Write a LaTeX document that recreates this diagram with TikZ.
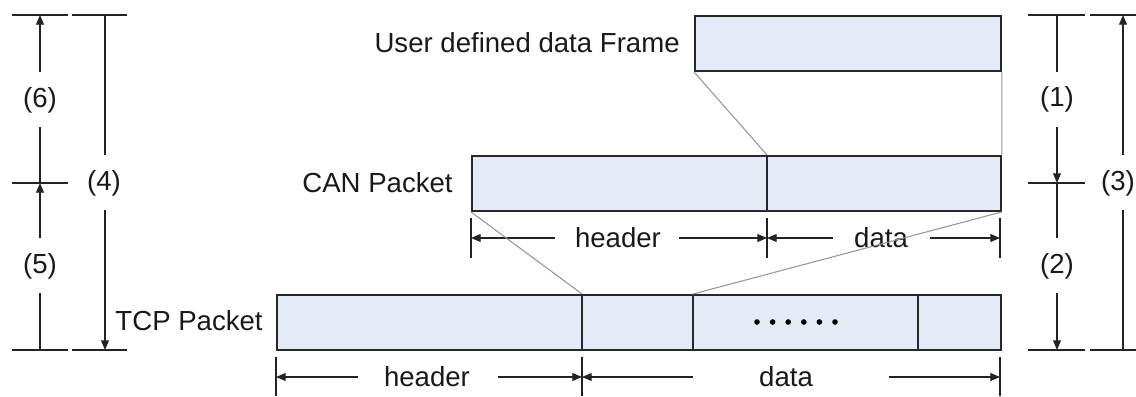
\documentclass[tikz,border=0pt]{standalone}
\usepackage{fontspec}
\setmainfont{Liberation Sans}
\usetikzlibrary{arrows.meta}
\definecolor{boxfill}{RGB}{228,235,247}
\definecolor{boxline}{RGB}{40,40,40}
\definecolor{guide}{RGB}{150,150,150}
\definecolor{dimline}{RGB}{35,35,35}
\tikzset{
  pbox/.style={draw=boxline, fill=boxfill, line width=1.1pt, anchor=north west, inner sep=0pt, minimum height=1.1cm},
  divider/.style={draw=boxline, line width=0.8pt},
  guideline/.style={draw=guide, line width=0.6pt},
  dim/.style={draw=dimline, line width=0.65pt},
  dimarrow/.style={dim, -{Triangle[length=5.5pt,width=4.5pt]}},
  lbl/.style={font=\fontsize{15.7}{18}\selectfont, text=black!90, inner sep=0pt},
  dot/.style={fill=black, circle, inner sep=0pt, minimum size=3.2pt}
}
\begin{document}
\begin{tikzpicture}[x=0.02cm,y=-0.02cm]
\useasboundingbox (0,0) rectangle (1136,396);

% boxes
\node[pbox, minimum width=6.12cm] (uf) at (694,15) {};
\node[pbox, minimum width=10.58cm] (can) at (471,155) {};
\node[pbox, minimum width=14.48cm] (tcp) at (276,294) {};

% dividers
\coordinate (candt) at (767,155); \coordinate (candb) at (767,210);
\draw[divider] (candt) -- (candb);
\coordinate (t1t) at (582,294); \coordinate (t1b) at (582,349);
\coordinate (t2t) at (693,294); \coordinate (t2b) at (693,349);
\coordinate (t3t) at (918,294); \coordinate (t3b) at (918,349);
\draw[divider] (t1t) -- (t1b);
\draw[divider] (t2t) -- (t2b);
\draw[divider] (t3t) -- (t3b);

% dots
\foreach \i in {0,...,5} {
  \node[dot] (d\i) at ({757+\i*15.6},322) {};
}

% box labels
\node[lbl, anchor=east] (ufl) at (680,43) {User defined data Frame};
\node[lbl, anchor=east] (canl) at (453,183) {CAN Packet};
\node[lbl, anchor=east] (tcpl) at (263,321) {TCP Packet};

% CAN dimension
\coordinate (ca1) at (471,218); \coordinate (ca1b) at (471,258);
\coordinate (ca2) at (767,218); \coordinate (ca2b) at (767,258);
\coordinate (ca3) at (1000,218); \coordinate (ca3b) at (1000,258);
\draw[dim] (ca1) -- (ca1b);
\draw[dim] (ca2) -- (ca2b);
\draw[dim] (ca3) -- (ca3b);
\node[lbl] (canh) at (618,238) {header};
\node[lbl] (cand) at (881,238) {data};
\coordinate (cah1) at (555,238); \coordinate (cah1e) at (471,238);
\coordinate (cah2) at (679,238); \coordinate (cah2e) at (767,238);
\coordinate (cad1) at (833,238); \coordinate (cad1e) at (767,238);
\coordinate (cad2) at (930,238); \coordinate (cad2e) at (1000,238);
\draw[dimarrow] (cah1) -- (cah1e);
\draw[dimarrow] (cah2) -- (cah2e);
\draw[dimarrow] (cad1) -- (cad1e);
\draw[dimarrow] (cad2) -- (cad2e);

% TCP dimension
\coordinate (ta1) at (276,357); \coordinate (ta1b) at (276,396);
\coordinate (ta2) at (582,357); \coordinate (ta2b) at (582,396);
\coordinate (ta3) at (1000,357); \coordinate (ta3b) at (1000,396);
\draw[dim] (ta1) -- (ta1b);
\draw[dim] (ta2) -- (ta2b);
\draw[dim] (ta3) -- (ta3b);
\node[lbl] (tcph) at (427,377) {header};
\node[lbl] (tcpd) at (786,377) {data};
\coordinate (th1) at (358,377); \coordinate (th1e) at (276,377);
\coordinate (th2) at (498,377); \coordinate (th2e) at (582,377);
\coordinate (td1) at (693,377); \coordinate (td1e) at (582,377);
\coordinate (td2) at (889,377); \coordinate (td2e) at (1000,377);
\draw[dimarrow] (th1) -- (th1e);
\draw[dimarrow] (th2) -- (th2e);
\draw[dimarrow] (td1) -- (td1e);
\draw[dimarrow] (td2) -- (td2e);

% guide lines
\draw[guideline] (uf.south west) -- (candt);
\draw[guideline] (uf.south east) -- (can.north east);
\draw[guideline] (can.south west) -- (t1t);
\draw[guideline] (can.south east) -- (t2t);

% left dimensions
\coordinate (l1a) at (12,15);  \coordinate (l1b) at (68,15);
\coordinate (l2a) at (72,15);  \coordinate (l2b) at (127,15);
\coordinate (l3a) at (12,183); \coordinate (l3b) at (68,183);
\coordinate (l4a) at (12,350); \coordinate (l4b) at (68,350);
\coordinate (l5a) at (72,350); \coordinate (l5b) at (127,350);
\draw[dim] (l1a) -- (l1b);
\draw[dim] (l2a) -- (l2b);
\draw[dim] (l3a) -- (l3b);
\draw[dim] (l4a) -- (l4b);
\draw[dim] (l5a) -- (l5b);
\node[lbl] (n6) at (40,100) {(6)};
\node[lbl] (n5) at (40,266) {(5)};
\node[lbl] (n4) at (104,183) {(4)};
\coordinate (v6a) at (40,72);  \coordinate (v6t) at (40,15);
\coordinate (v6b) at (40,127); \coordinate (v6m) at (40,183);
\coordinate (v5a) at (40,238); \coordinate (v5t) at (40,183);
\coordinate (v5b) at (40,293); \coordinate (v5e) at (40,350);
\draw[dimarrow] (v6a) -- (v6t);
\draw[dim] (v6b) -- (v6m);
\draw[dimarrow] (v5a) -- (v5t);
\draw[dim] (v5b) -- (v5e);
\coordinate (v4a) at (105,155); \coordinate (v4t) at (105,15);
\coordinate (v4b) at (105,210); \coordinate (v4e) at (105,350);
\draw[dim] (v4a) -- (v4t);
\draw[dimarrow] (v4b) -- (v4e);

% right dimensions
\coordinate (r1a) at (1028,15);  \coordinate (r1b) at (1085,15);
\coordinate (r2a) at (1090,15);  \coordinate (r2b) at (1136,15);
\coordinate (r3a) at (1028,183); \coordinate (r3b) at (1085,183);
\coordinate (r4a) at (1028,350); \coordinate (r4b) at (1085,350);
\coordinate (r5a) at (1090,350); \coordinate (r5b) at (1136,350);
\draw[dim] (r1a) -- (r1b);
\draw[dim] (r2a) -- (r2b);
\draw[dim] (r3a) -- (r3b);
\draw[dim] (r4a) -- (r4b);
\draw[dim] (r5a) -- (r5b);
\node[lbl] (n1) at (1057,99) {(1)};
\node[lbl] (n2) at (1057,266) {(2)};
\node[lbl] (n3) at (1118,183) {(3)};
\coordinate (w1a) at (1057,15);  \coordinate (w1b) at (1057,72);
\coordinate (w1c) at (1057,127); \coordinate (w1d) at (1057,183);
\coordinate (w2a) at (1057,183); \coordinate (w2b) at (1057,238);
\coordinate (w2c) at (1057,293); \coordinate (w2d) at (1057,350);
\draw[dim] (w1a) -- (w1b);
\draw[dimarrow] (w1c) -- (w1d);
\draw[dim] (w2a) -- (w2b);
\draw[dimarrow] (w2c) -- (w2d);
\coordinate (w3a) at (1123,155); \coordinate (w3t) at (1123,15);
\coordinate (w3b) at (1123,210); \coordinate (w3e) at (1123,350);
\draw[dimarrow] (w3a) -- (w3t);
\draw[dim] (w3b) -- (w3e);
\end{tikzpicture}
\end{document}
